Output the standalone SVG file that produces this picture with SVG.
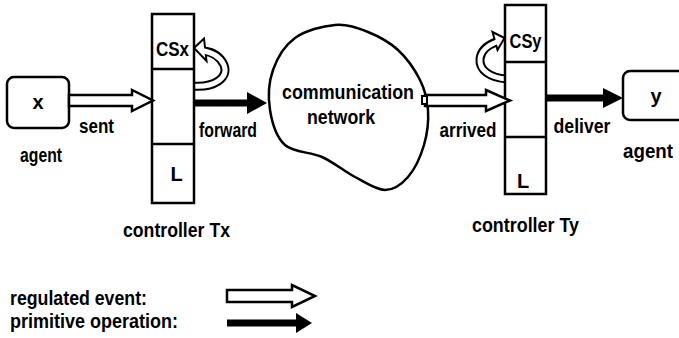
<svg xmlns="http://www.w3.org/2000/svg" width="679" height="338" viewBox="0 0 679 338">
<style>
.t{font-family:"Liberation Sans",Arial,sans-serif;font-weight:bold;font-size:20px;fill:#000}
.m{text-anchor:middle}
.box{fill:#fff;stroke:#000;stroke-width:2.5}
.div{stroke:#000;stroke-width:2.5}
.hollow{fill:#fff;stroke:#000;stroke-width:2.5;stroke-linejoin:miter}
.shaft{stroke:#000;stroke-width:7;fill:none}
.head{fill:#000;stroke:none}
.bandO{fill:none;stroke:#000;stroke-width:9}
.bandI{fill:none;stroke:#fff;stroke-width:5}
.lhead{fill:#fff;stroke:#000;stroke-width:2;stroke-linejoin:miter}
</style>
<rect width="679" height="338" fill="#fff"/>
<g id="connectors">
  <g id="loop-x">
    <path class="bandO" d="M192,86 C214,88 229,78 224,65 C220,56 212,52 204,51"/>
    <polygon class="lhead" points="194,48 204,38.5 206.5,61"/>
    <path class="bandI" d="M192,86 C214,88 229,78 224,65 C220,56 212,52 201,50.5"/>
  </g>
  <g id="loop-y">
    <path class="bandO" d="M507,79 C490,78 479,70 480,59 C481,50 488,45 496,42"/>
    <polygon class="lhead" points="504.5,38 492.5,32 497.5,50"/>
    <path class="bandI" d="M507,79 C490,78 479,70 480,59 C481,50 488,45 498,41.5"/>
  </g>
</g>
<g id="agent-x">
  <rect class="box" x="7" y="77" width="62" height="51" rx="7"/>
  <text class="t m" x="38" y="109">x</text>
  <text class="t" x="20" y="162" font-size="19" textLength="42" lengthAdjust="spacingAndGlyphs">agent</text>
</g>
<g id="controller-tx">
  <rect class="box" x="152" y="14" width="42" height="189"/>
  <line class="div" x1="152" y1="69" x2="194" y2="69"/>
  <line class="div" x1="152" y1="144" x2="194" y2="144"/>
  <text class="t" x="156" y="56" font-size="19" textLength="33" lengthAdjust="spacingAndGlyphs">CSx</text>
  <text class="t m" x="176.5" y="181">L</text>
  <text class="t" x="123" y="237" textLength="107" lengthAdjust="spacingAndGlyphs">controller Tx</text>
</g>
<g id="network">
  <path class="box" d="M335,25 C347.2,24 357.5,27.8 368,32 C378.5,36.2 389.3,42 398,50 C406.7,58 415,70 420,80 C425,90 427.3,99.2 428,110 C428.7,120.8 427.3,133.8 424,145 C420.7,156.2 414.5,169.5 408,177 C401.5,184.5 393.8,190 385,190 C376.2,190 365.5,182.5 355,177 C344.5,171.5 333.7,162.3 322,157 C310.3,151.7 293.7,152.8 285,145 C276.3,137.2 272,122.5 270,110 C268,97.5 268.8,82 273,70 C277.2,58 284.7,45.5 295,38 C305.3,30.5 322.8,26 335,25 Z"/>
  <text class="t" x="282" y="99" font-size="21" textLength="132" lengthAdjust="spacingAndGlyphs">communication</text>
  <text class="t" x="307" y="124" font-size="21" textLength="68" lengthAdjust="spacingAndGlyphs">network</text>
</g>
<g id="controller-ty">
  <rect class="box" x="505" y="5" width="41" height="189"/>
  <line class="div" x1="505" y1="62" x2="546" y2="62"/>
  <line class="div" x1="505" y1="137" x2="546" y2="137"/>
  <text class="t" x="509.5" y="48" font-size="19" textLength="32" lengthAdjust="spacingAndGlyphs">CSy</text>
  <text class="t m" x="523" y="188">L</text>
  <text class="t" x="472" y="232" textLength="107" lengthAdjust="spacingAndGlyphs">controller Ty</text>
</g>
<g id="agent-y">
  <rect class="box" x="623" y="71" width="64" height="49" rx="7"/>
  <text class="t m" x="656" y="103">y</text>
  <text class="t" x="623" y="158" font-size="19" textLength="50" lengthAdjust="spacingAndGlyphs">agent</text>
</g>
<g id="edges">
  <g id="sent">
    <polygon class="hollow" points="69,95 132,95 132,90 153,100.5 132,111 132,106 69,106"/>
    <text class="t" x="79" y="133" textLength="35" lengthAdjust="spacingAndGlyphs">sent</text>
  </g>
  <g id="forward">
    <line class="shaft" x1="194" y1="103" x2="250" y2="103"/>
    <polygon class="head" points="247,92 267,103 247,114"/>
    <text class="t" x="199" y="136.5" textLength="58" lengthAdjust="spacingAndGlyphs">forward</text>
  </g>
  <g id="arrived">
    <polygon class="hollow" points="425,95 486,95 486,90 510,100.5 486,111 486,106 425,106"/>
    <rect x="422" y="96" width="5" height="8" fill="#fff" stroke="#000" stroke-width="2"/>
    <text class="t" x="439.5" y="136.5" textLength="57" lengthAdjust="spacingAndGlyphs">arrived</text>
  </g>
  <g id="deliver">
    <line class="shaft" x1="546" y1="98" x2="606" y2="98"/>
    <polygon class="head" points="603,88 623,98 603,108"/>
    <text class="t" x="553.5" y="133" textLength="57" lengthAdjust="spacingAndGlyphs">deliver</text>
  </g>
</g>
<g id="legend">
  <text class="t" x="10" y="305" font-size="21" textLength="137" lengthAdjust="spacingAndGlyphs">regulated event:</text>
  <text class="t" x="10" y="328" font-size="21" textLength="168" lengthAdjust="spacingAndGlyphs">primitive operation:</text>
  <polygon class="hollow" points="227,290 292,290 292,285 315,296 292,307 292,302 227,302"/>
  <line class="shaft" x1="227" y1="323" x2="298" y2="323"/>
  <polygon class="head" points="296,313 312,323 296,333"/>
</g>
</svg>
